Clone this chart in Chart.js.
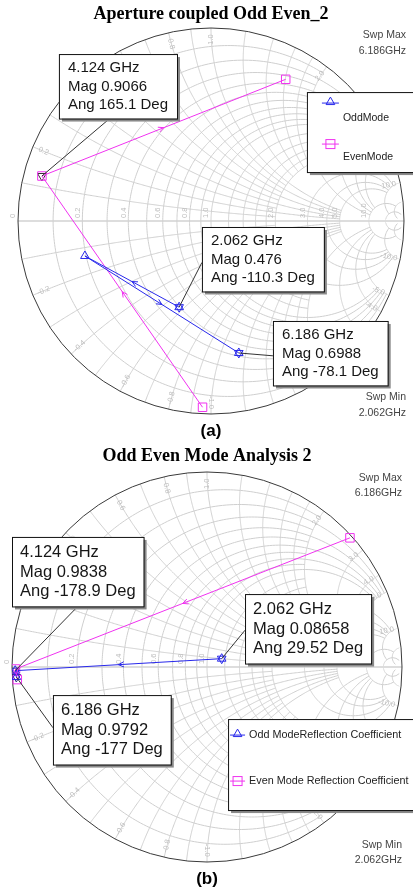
<!DOCTYPE html>
<html>
<head>
<meta charset="utf-8">
<script src="https://cdn.jsdelivr.net/npm/chart.js@4"></script>
<style>
body { margin: 0; background: #fff; overflow: hidden; }
canvas { display: block; }
</style>
</head>
<body>
<canvas id="chartA" width="413" height="445"></canvas>
<canvas id="chartB" width="413" height="445"></canvas>
<script>
// sweep points
const freqLabels = ['2.062 GHz', '4.124 GHz', '6.186 GHz'];

// (a) Aperture coupled Odd Even_2 : reflection coeff, mag + angle (deg)
const oddMagA  = [0.476, 0.678, 0.6988];
const oddAngA  = [-110.3, -164.5, -78.1];
const evenMagA = [0.966, 0.9066, 0.830];
const evenAngA = [-92.6, 165.1, 62.2];

// (b) Odd Even Mode Analysis 2
const oddMagB  = [0.08658, 0.9838, 0.9792];
const oddAngB  = [29.52, -178.9, -177];
const evenMagB = [0.988, 0.982, 0.975];
const evenAngB = [42.1, -179.4, -176.2];

// smith grid tick labels
const rTicks = [0, 0.2, 0.4, 0.6, 0.8, 1.0, 2.0, 3.0, 4.0, 5.0, 10.0];
const xTicks = [0.2, 0.4, 0.6, 0.8, 1.0, 2.0, 3.0, 4.0, 5.0, 10.0];

const BLUE = 'rgb(40,40,235)';
const PINK = 'rgb(240,50,240)';
const DARK = '#333';
const SANS = 'Liberation Sans';

const toXY = (mag, ang) => mag.map((m, i) => ({
  x: m * Math.cos(ang[i] * Math.PI / 180),
  y: m * Math.sin(ang[i] * Math.PI / 180)
}));

function zToG(r, x) {
  const d = (r + 1) * (r + 1) + x * x;
  return [(r * r + x * x - 1) / d, 2 * x / d];
}

// [values, limit of the other coordinate]
const gridSets = [
  [[0.1, 0.3, 0.5, 0.7, 0.9], 2],
  [[0.2, 0.4, 0.6, 0.8, 1.0], 5],
  [[1.2, 1.4, 1.6, 1.8], 2],
  [[2, 3, 4, 5], 10],
  [[10], 20],
  [[20], 50]
];

const fmt = v => (v === 0 ? '0' : v.toFixed(1));

function drawTri(ctx, x, y, r, down) {
  const s = down ? -1 : 1;
  ctx.beginPath();
  ctx.moveTo(x, y - s * r);
  ctx.lineTo(x + r * 0.866, y + s * r / 2);
  ctx.lineTo(x - r * 0.866, y + s * r / 2);
  ctx.closePath();
  ctx.stroke();
}

function smith(cfg) {
  return {
    id: 'smith',
    beforeDatasetsDraw(chart) {
      const ctx = chart.ctx, xs = chart.scales.x, ys = chart.scales.y;
      const P = g => [xs.getPixelForValue(g[0]), ys.getPixelForValue(g[1])];
      const N = 240;
      const path = f => {
        ctx.beginPath();
        for (let i = 0; i <= N; i++) {
          const p = P(f(i / N));
          if (i) ctx.lineTo(p[0], p[1]); else ctx.moveTo(p[0], p[1]);
        }
        ctx.stroke();
      };
      ctx.save();
      ctx.lineWidth = 1;
      ctx.strokeStyle = '#cfcfcf';
      gridSets.forEach(([vals, lim]) => vals.forEach(r => {
        const t = Math.atan(lim);
        path(s => zToG(r, Math.tan(-t + 2 * t * s)));
      }));
      gridSets.forEach(([vals, lim]) => vals.forEach(x => {
        const t = Math.atan(lim);
        path(s => zToG(Math.tan(t * s), x));
        path(s => zToG(Math.tan(t * s), -x));
      }));
      const c = P([0, 0]);
      const R = xs.getPixelForValue(1) - c[0];
      ctx.strokeStyle = '#d2d2d2';
      ctx.lineWidth = 1.5;
      ctx.beginPath();
      ctx.moveTo(c[0] - R, c[1]);
      ctx.lineTo(c[0] + R, c[1]);
      ctx.stroke();
      ctx.strokeStyle = '#3a3a3a';
      ctx.lineWidth = 1;
      ctx.beginPath();
      ctx.arc(c[0], c[1], R, 0, 2 * Math.PI);
      ctx.stroke();

      // tick labels
      ctx.fillStyle = '#bdbdbd';
      ctx.font = '7.5px ' + SANS;
      rTicks.forEach(r => {
        const p = P([(r - 1) / (r + 1), 0]);
        ctx.save();
        ctx.translate(p[0] - 1, p[1] - 3);
        ctx.rotate(-Math.PI / 2);
        ctx.textAlign = 'left';
        ctx.textBaseline = 'bottom';
        ctx.fillText(fmt(r), 0, 0);
        ctx.restore();
      });
      xTicks.forEach(x => {
        [1, -1].forEach(sg => {
          const th = sg * (Math.PI - 2 * Math.atan(x));
          const p = P([0.94 * Math.cos(th), 0.94 * Math.sin(th)]);
          let rot = -th;
          if (Math.abs(th) > Math.PI / 2) rot += Math.PI;
          ctx.save();
          ctx.translate(p[0], p[1]);
          ctx.rotate(rot);
          ctx.textAlign = 'center';
          ctx.textBaseline = 'middle';
          ctx.fillText((sg < 0 ? '-' : '') + fmt(x), 0, 0);
          ctx.restore();
        });
      });
      ctx.restore();
    },
    afterDatasetsDraw(chart) {
      const ctx = chart.ctx;
      ctx.save();
      chart.data.datasets.forEach((ds, k) => {
        if (!ds.arrows) return;
        const pts = chart.getDatasetMeta(k).data;
        ctx.strokeStyle = ds.borderColor;
        ctx.lineWidth = 1;
        for (let j = 0; j < pts.length - 1; j++) {
          const a = pts[j], b = pts[j + 1];
          const mx = (a.x + b.x) / 2, my = (a.y + b.y) / 2;
          const an = Math.atan2(b.y - a.y, b.x - a.x);
          ctx.beginPath();
          ctx.moveTo(mx - 6 * Math.cos(an - 0.45), my - 6 * Math.sin(an - 0.45));
          ctx.lineTo(mx, my);
          ctx.lineTo(mx - 6 * Math.cos(an + 0.45), my - 6 * Math.sin(an + 0.45));
          ctx.stroke();
        }
      });
      ctx.restore();
    },
    afterDraw(chart) {
      const ctx = chart.ctx, xs = chart.scales.x, ys = chart.scales.y;
      const area = chart.chartArea;
      ctx.save();
      // marker readouts
      ctx.font = cfg.boxFont + 'px ' + SANS;
      cfg.boxes.forEach(b => {
        const pt = chart.getDatasetMeta(b.ds).data[b.i];
        const lines = [freqLabels[b.i], 'Mag ' + b.mag[b.i], 'Ang ' + b.ang[b.i] + ' Deg'];
        const w = Math.max(...lines.map(s => ctx.measureText(s).width)) + 2 * cfg.padX;
        const h = 3 * cfg.lineH + cfg.padT + cfg.padB;
        const left = xs.getPixelForValue(b.gx), top = ys.getPixelForValue(b.gy);
        ctx.strokeStyle = DARK;
        ctx.lineWidth = 1;
        ctx.beginPath();
        ctx.moveTo(left + b.lx * w, top + b.ly * h);
        ctx.lineTo(pt.x, pt.y);
        ctx.stroke();
        ctx.fillStyle = '#8a8a8a';
        ctx.fillRect(left + 3, top + 3, w, h);
        ctx.fillStyle = '#fff';
        ctx.fillRect(left, top, w, h);
        ctx.strokeStyle = '#111';
        ctx.strokeRect(left + 0.5, top + 0.5, w, h);
        ctx.fillStyle = '#161616';
        ctx.textAlign = 'left';
        ctx.textBaseline = 'middle';
        lines.forEach((s, k) => ctx.fillText(s, left + cfg.padX, top + cfg.padT + cfg.lineH * (k + 0.5)));
      });

      // legend box
      const L = cfg.legend;
      const lx = xs.getPixelForValue(L.gx), ly = ys.getPixelForValue(L.gy);
      ctx.fillStyle = '#8a8a8a';
      ctx.fillRect(lx + 3, ly + 3, 200, L.h);
      ctx.fillStyle = '#fff';
      ctx.fillRect(lx, ly, 200, L.h);
      ctx.strokeStyle = '#111';
      ctx.strokeRect(lx + 0.5, ly + 0.5, 200, L.h);
      ctx.font = L.font + 'px ' + SANS;
      ctx.textAlign = 'left';
      ctx.textBaseline = 'middle';
      chart.data.datasets.forEach((ds, k) => {
        if (!ds.arrows) return;
        const e = L.items[k];
        ctx.strokeStyle = ds.borderColor;
        ctx.beginPath();
        ctx.moveTo(lx + L.x0, ly + e.y);
        ctx.lineTo(lx + L.x1, ly + e.y);
        ctx.stroke();
        const cx = lx + (L.x0 + L.x1) / 2;
        if (ds.pointStyle === 'triangle') drawTri(ctx, cx, ly + e.y - 1, 5, false);
        else ctx.strokeRect(cx - 4.5, ly + e.y - 4.5, 9, 9);
        ctx.fillStyle = '#222';
        ctx.fillText(ds.label, lx + L.tx, ly + e.ty);
      });

      // sweep range
      ctx.fillStyle = '#444';
      ctx.font = '10.5px ' + SANS;
      ctx.textAlign = 'right';
      ctx.textBaseline = 'middle';
      const sx = area.right + cfg.swpDx;
      ctx.fillText('Swp Max', sx, area.top + cfg.swp[0]);
      ctx.fillText(freqLabels[2].replace(' ', ''), sx, area.top + cfg.swp[1]);
      ctx.fillText('Swp Min', sx, area.bottom + cfg.swp[2]);
      ctx.fillText(freqLabels[0].replace(' ', ''), sx, area.bottom + cfg.swp[3]);
      ctx.restore();
    }
  };
}

function traceSet(labels, odd, even, markIdx, markColors) {
  const traces = [odd, even];
  return [
    { label: labels[0], data: odd, showLine: true, arrows: true, borderColor: BLUE, borderWidth: 1,
      pointStyle: 'triangle', pointRadius: 5, pointBorderColor: BLUE, pointBorderWidth: 1,
      pointBackgroundColor: 'rgba(0,0,0,0)' },
    { label: labels[1], data: even, showLine: true, arrows: true, borderColor: PINK, borderWidth: 1,
      pointStyle: 'rect', pointRadius: 6, pointBorderColor: PINK, pointBorderWidth: 1,
      pointBackgroundColor: 'rgba(0,0,0,0)' },
    { label: 'markers', data: markIdx.map(([d, i]) => traces[d][i]), showLine: false,
      pointStyle: 'triangle', pointRotation: 180, pointRadius: 5, pointBorderWidth: 1,
      pointBorderColor: markColors, pointBackgroundColor: 'rgba(0,0,0,0)' }
  ];
}

function makeChart(id, datasets, title, sub, pad, titlePad, subPad, cfg) {
  return new Chart(document.getElementById(id), {
    type: 'scatter',
    data: { datasets },
    options: {
      responsive: false,
      animation: false,
      devicePixelRatio: 1,
      layout: { padding: pad },
      elements: { line: { tension: 0 } },
      scales: {
        x: { type: 'linear', min: -1, max: 1, display: false },
        y: { type: 'linear', min: -1, max: 1, display: false }
      },
      plugins: {
        legend: { display: false },
        tooltip: { enabled: false },
        title: { display: true, text: title, color: '#000', padding: titlePad,
                 font: { family: 'Liberation Serif', size: 18, weight: 'bold' } },
        subtitle: { display: true, position: 'bottom', text: sub, color: '#000', padding: subPad,
                    font: { family: SANS, size: 17, weight: 'bold' } }
      }
    },
    plugins: [smith(cfg)]
  });
}

const oddA = toXY(oddMagA, oddAngA), evenA = toXY(evenMagA, evenAngA);
const oddB = toXY(oddMagB, oddAngB), evenB = toXY(evenMagB, evenAngB);

makeChart('chartA',
  traceSet(['OddMode', 'EvenMode'], oddA, evenA, [[0, 0], [1, 1], [0, 2]], [BLUE, DARK, BLUE]),
  'Aperture coupled Odd Even_2', '(a)',
  { left: 18, right: 9, top: 0, bottom: 0 }, { top: 3.2, bottom: 3.2 }, { top: 6.8, bottom: 3.8 },
  {
    boxFont: 15, lineH: 18.5, padX: 9, padT: 5, padB: 4,
    boxes: [
      { ds: 1, i: 1, mag: evenMagA, ang: evenAngA, gx: -0.788, gy: 0.865, lx: 0.43, ly: 1 },
      { ds: 0, i: 0, mag: oddMagA, ang: oddAngA, gx: -0.047, gy: -0.031, lx: 0, ly: 0.55 },
      { ds: 0, i: 2, mag: oddMagA, ang: oddAngA, gx: 0.321, gy: -0.518, lx: 0, ly: 0.54 }
    ],
    legend: { gx: 0.497, gy: 0.668, h: 80, font: 10.5, x0: 15, x1: 32, tx: 36,
              items: [{ y: 11, ty: 26 }, { y: 52, ty: 65 }] },
    swpDx: 2, swp: [7, 23, -17, -1]
  });

makeChart('chartB',
  traceSet(['Odd ModeReflection Coefficient', 'Even Mode Reflection Coefficient'], oddB, evenB,
           [[0, 0], [0, 1], [0, 2]], [BLUE, '#303080', '#303080']),
  'Odd Even Mode Analysis 2', '(b)',
  { left: 12, right: 11, top: 0, bottom: 0 }, { top: 0.9, bottom: 4.5 }, { top: 6.8, bottom: 0.8 },
  {
    boxFont: 16.5, lineH: 19.5, padX: 8, padT: 6, padB: 5,
    boxes: [
      { ds: 0, i: 1, mag: oddMagB, ang: oddAngB, gx: -1.0, gy: 0.667, lx: 0.5, ly: 1 },
      { ds: 0, i: 0, mag: oddMagB, ang: oddAngB, gx: 0.195, gy: 0.374, lx: 0, ly: 0.52 },
      { ds: 0, i: 2, mag: oddMagB, ang: oddAngB, gx: -0.790, gy: -0.144, lx: 0, ly: 0.47 }
    ],
    legend: { gx: 0.108, gy: -0.267, h: 91, font: 10.8, x0: 2, x1: 17, tx: 21,
              items: [{ y: 16, ty: 16 }, { y: 62, ty: 62 }] },
    swpDx: 0, swp: [6, 21, -17, -2]
  });
</script>
</body>
</html>
